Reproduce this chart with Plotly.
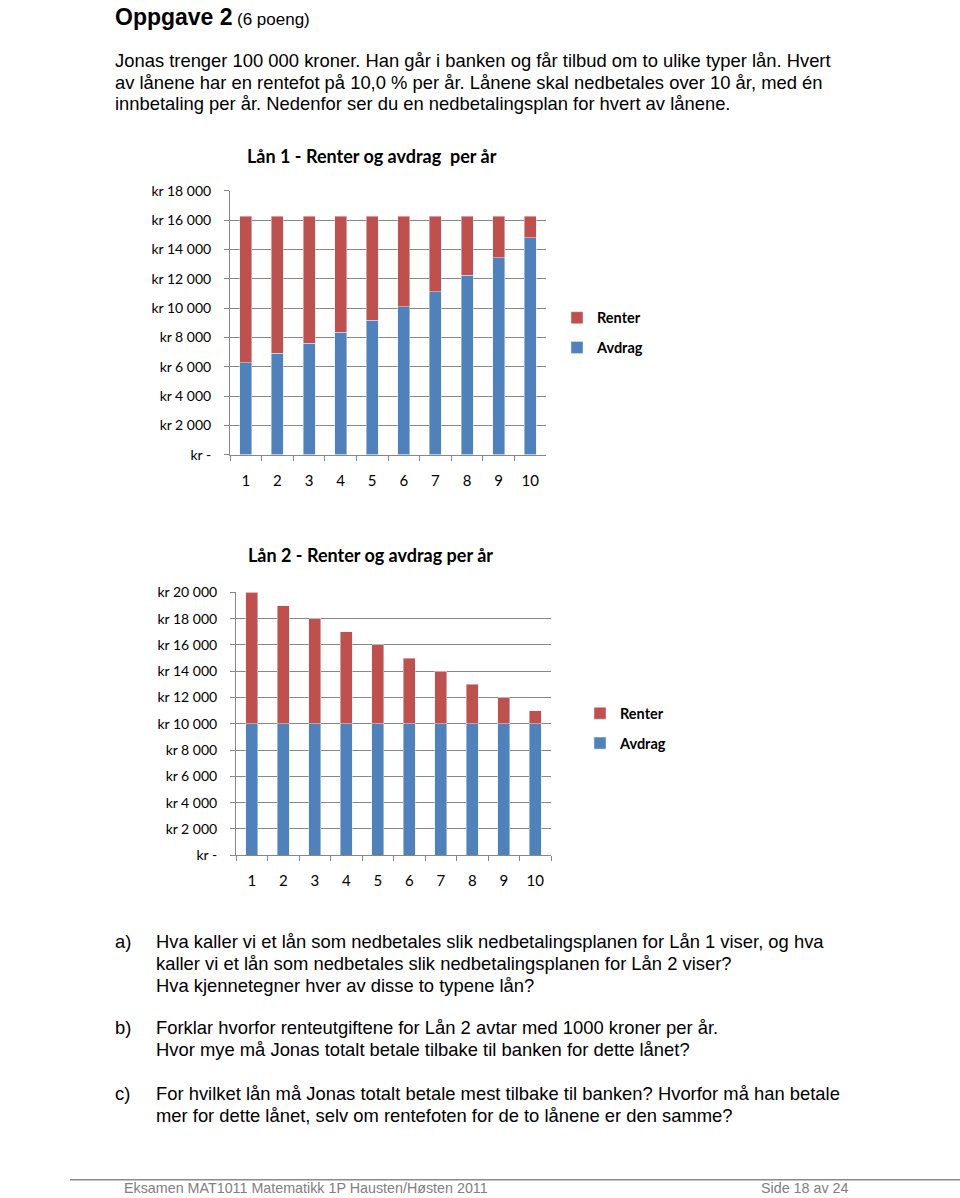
import plotly.graph_objects as go

# ---------------- data ----------------
years = ["1", "2", "3", "4", "5", "6", "7", "8", "9", "10"]
lan1_avdrag = [6275, 6902, 7592, 8351, 9187, 10105, 11116, 12227, 13450, 14795]
lan1_renter = [10000, 9373, 8682, 7923, 7088, 6170, 5159, 4047, 2825, 1480]
lan2_avdrag = [10000, 10000, 10000, 10000, 10000, 10000, 10000, 10000, 10000, 10000]
lan2_renter = [10000, 9000, 8000, 7000, 6000, 5000, 4000, 3000, 2000, 1000]

y1_vals = [0, 2000, 4000, 6000, 8000, 10000, 12000, 14000, 16000, 18000]
y1_text = ["kr -", "kr 2 000", "kr 4 000", "kr 6 000", "kr 8 000", "kr 10 000",
           "kr 12 000", "kr 14 000", "kr 16 000", "kr 18 000"]
y2_vals = [0, 2000, 4000, 6000, 8000, 10000, 12000, 14000, 16000, 18000, 20000]
y2_text = ["kr -", "kr 2 000", "kr 4 000", "kr 6 000", "kr 8 000", "kr 10 000",
           "kr 12 000", "kr 14 000", "kr 16 000", "kr 18 000", "kr 20 000"]

title1 = "Lån 1 - Renter og avdrag  per år"
title2 = "Lån 2 - Renter og avdrag per år"

intro_lines = [
    "Jonas trenger 100 000 kroner. Han går i banken og får tilbud om to ulike typer lån. Hvert",
    "av lånene har en rentefot på 10,0 % per år. Lånene skal nedbetales over 10 år, med én",
    "innbetaling per år. Nedenfor ser du en nedbetalingsplan for hvert av lånene.",
]
questions = [
    ("a)", ["Hva kaller vi et lån som nedbetales slik nedbetalingsplanen for Lån 1 viser, og hva",
            "kaller vi et lån som nedbetales slik nedbetalingsplanen for Lån 2 viser?",
            "Hva kjennetegner hver av disse to typene lån?"]),
    ("b)", ["Forklar hvorfor renteutgiftene for Lån 2 avtar med 1000 kroner per år.",
            "Hvor mye må Jonas totalt betale tilbake til banken for dette lånet?"]),
    ("c)", ["For hvilket lån må Jonas totalt betale mest tilbake til banken? Hvorfor må han betale",
            "mer for dette lånet, selv om rentefoten for de to lånene er den samme?"]),
]
footer_left = "Eksamen MAT1011 Matematikk 1P Hausten/Høsten 2011"
footer_right = "Side 18 av 24"

# ---------------- layout helpers ----------------
# Page coordinates (as measured on the target) -> figure paper coordinates.
# The page shows the figure offset by the body margin and slightly scaled
# vertically, so screen y ~= 0.987 * figure y + 7.9.
W, H = 960, 1206
SY, OY = 0.987, 7.9
def fx(x): return x / W
def fy(y): return 1 - ((y - OY) / SY) / H

BLUE = "#4F81BD"
RED = "#C0504D"
GRID = "#878787"
CHART_FONT = "Lato, Calibri, Carlito, sans-serif"
BODY_FONT = "Liberation Sans, Arial, sans-serif"
BODY_SIZE = 18.4

fig = go.Figure()

fig.add_trace(go.Bar(x=years, y=lan1_avdrag, name="Avdrag", marker_color=BLUE,
                     xaxis="x", yaxis="y", legend="legend", legendgroup="a1", legendrank=2))
fig.add_trace(go.Bar(x=years, y=lan1_renter, name="Renter", marker_color=RED,
                     xaxis="x", yaxis="y", legend="legend", legendgroup="r1", legendrank=1))
fig.add_trace(go.Bar(x=years, y=lan2_avdrag, name="Avdrag", marker_color=BLUE,
                     xaxis="x2", yaxis="y2", legend="legend2", legendgroup="a2", legendrank=2))
fig.add_trace(go.Bar(x=years, y=lan2_renter, name="Renter", marker_color=RED,
                     xaxis="x2", yaxis="y2", legend="legend2", legendgroup="r2", legendrank=1))

def xaxis_cfg(x0, x1, anchor):
    return dict(domain=[fx(x0), fx(x1)], anchor=anchor, type="category",
                showline=True, linecolor=GRID, linewidth=1,
                ticks="outside", tickson="boundaries", ticklen=5, tickcolor=GRID,
                tickfont=dict(family=CHART_FONT, size=15, color="#000"),
                ticklabelstandoff=12, showgrid=False, zeroline=False, fixedrange=True)

def yaxis_cfg(y0, y1, anchor, vals, text, rng):
    return dict(domain=[fy(y1), fy(y0)], anchor=anchor, range=rng,
                tickvals=vals, ticktext=text, showline=True, linecolor=GRID, linewidth=1,
                ticks="outside", ticklen=5, tickcolor=GRID,
                tickfont=dict(family=CHART_FONT, size=14, color="#000"),
                ticklabelstandoff=10,
                showgrid=True, gridcolor=GRID, gridwidth=1, zeroline=False, fixedrange=True)

legend_common = dict(font=dict(family=CHART_FONT, size=14.5, color="#000", weight="bold"),
                     traceorder="grouped", tracegroupgap=8, itemwidth=30,
                     bgcolor="rgba(0,0,0,0)", xanchor="left", yanchor="top")

fig.update_layout(
    width=W, height=H, margin=dict(l=0, r=0, t=0, b=0),
    paper_bgcolor="white", plot_bgcolor="white",
    barmode="stack", bargap=0.62,
    xaxis=xaxis_cfg(230, 546, "y"),
    yaxis=yaxis_cfg(190, 454, "x", y1_vals, y1_text, [0, 18000]),
    xaxis2=xaxis_cfg(236, 551, "y2"),
    yaxis2=yaxis_cfg(592, 855, "x2", y2_vals, y2_text, [0, 20000]),
    legend=dict(x=fx(557), y=fy(301), **legend_common),
    legend2=dict(x=fx(580), y=fy(697), **legend_common),
)

ann = []
def text(x, y, s, size, family=BODY_FONT, color="#000", bold=False, xanchor="left"):
    ann.append(dict(x=fx(x), y=fy(y), xref="paper", yref="paper", text=s,
                    showarrow=False, xanchor=xanchor, yanchor="middle",
                    font=dict(family=family, size=size, color=color,
                              weight="bold" if bold else "normal")))

# heading
text(113, 16, "Oppgave 2", 23, bold=True)
text(235, 18, "(6 poeng)", 17)
# intro
for i, line in enumerate(intro_lines):
    text(113, 59 + 22 * i, line, BODY_SIZE)
# chart titles
text(372, 155, title1, 18, family=CHART_FONT, bold=True, xanchor="center")
text(370, 555, title2, 18, family=CHART_FONT, bold=True, xanchor="center")
# questions
q_y = [941, 1028, 1094]
for (lab, lines), y0 in zip(questions, q_y):
    text(113, y0, lab, BODY_SIZE)
    for i, line in enumerate(lines):
        text(154, y0 + 22 * i, line, BODY_SIZE)
# footer
text(122, 1188, footer_left, 14.3, color="#808080")
text(759, 1188, footer_right, 14.3, color="#808080")

fig.update_layout(annotations=ann)
fig.add_shape(type="line", xref="paper", yref="paper", x0=fx(70), x1=1.0,
              y0=fy(1180), y1=fy(1180), line=dict(color="#8a8a8a", width=1.5))

fig.write_html("out.html")
